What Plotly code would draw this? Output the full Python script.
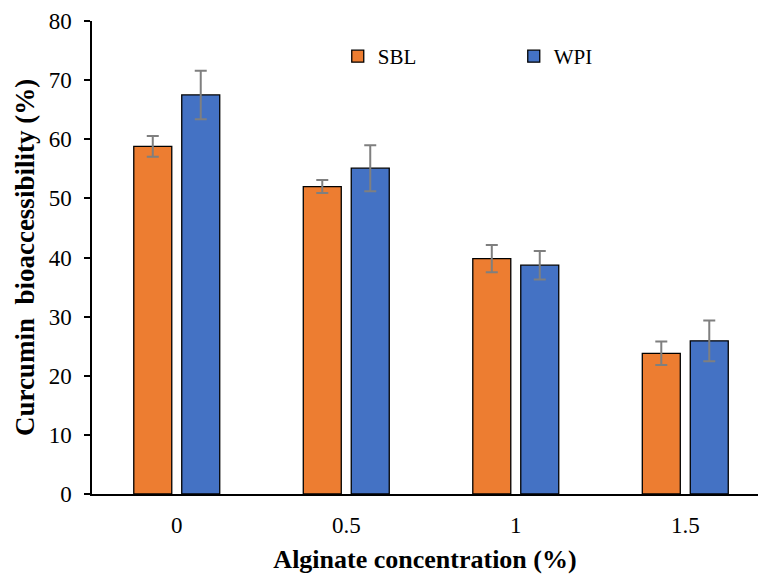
import plotly.graph_objects as go

# Alginate concentration (%) categories
concentrations = ["0", "0.5", "1", "1.5"]

# Curcumin bioaccessibility (%) means and standard deviations
sbl_mean = [58.8, 52.0, 39.8, 23.8]
sbl_sd = [1.75, 1.1, 2.3, 2.0]
wpi_mean = [67.5, 55.1, 38.7, 25.9]
wpi_sd = [4.1, 3.9, 2.4, 3.45]

y_ticks = [0, 10, 20, 30, 40, 50, 60, 70, 80]

FONT = "'Liberation Serif', 'Times New Roman', Times, serif"
ORANGE = "#ED7D31"
BLUE = "#4472C4"
ERR = "#7F7F7F"

def err(sd):
    return dict(type="data", array=sd, visible=True, color=ERR, thickness=2, width=6)

fig = go.Figure()
fig.add_trace(go.Bar(
    name="SBL", x=concentrations, y=sbl_mean, error_y=err(sbl_sd),
    marker=dict(color=ORANGE, line=dict(color="#000000", width=1.3)),
))
fig.add_trace(go.Bar(
    name="WPI", x=concentrations, y=wpi_mean, error_y=err(wpi_sd),
    marker=dict(color=BLUE, line=dict(color="#000000", width=1.3)),
))

fig.update_layout(
    width=759, height=574,
    margin=dict(l=92, r=1, t=21, b=80),
    paper_bgcolor="white", plot_bgcolor="white",
    font=dict(family=FONT, color="black", size=23),
    barmode="group", bargap=0.434, bargroupgap=0.208,
    showlegend=True,
    legend=dict(
        orientation="h", x=0.369, y=0.925, xanchor="left", yanchor="middle",
        font=dict(family=FONT, size=21, color="black"),
        bgcolor="rgba(0,0,0,0)", entrywidth=131, entrywidthmode="pixels",
        traceorder="normal",
    ),
    xaxis=dict(
        type="category", range=[-0.5, 3.429],
        showline=True, linecolor="black", linewidth=1.5,
        ticks="", ticklabelstandoff=10,
        tickfont=dict(family=FONT, size=23, color="black"),
        showgrid=False, zeroline=False,
        title=dict(text="<b>Alginate concentration (%)</b>",
                   font=dict(family=FONT, size=26, color="black"), standoff=12),
    ),
    yaxis=dict(
        range=[0, 80], tickvals=y_ticks,
        showline=True, linecolor="black", linewidth=1.5,
        ticks="outside", ticklen=6, tickwidth=1.5, tickcolor="black",
        ticklabelstandoff=8,
        tickfont=dict(family=FONT, size=23, color="black"),
        showgrid=False, zeroline=False,
        title=dict(text="<b>Curcumin  bioaccessibility (%)</b>",
                   font=dict(family=FONT, size=27, color="black"), standoff=6),
    ),
)

fig.write_html("out.html")
